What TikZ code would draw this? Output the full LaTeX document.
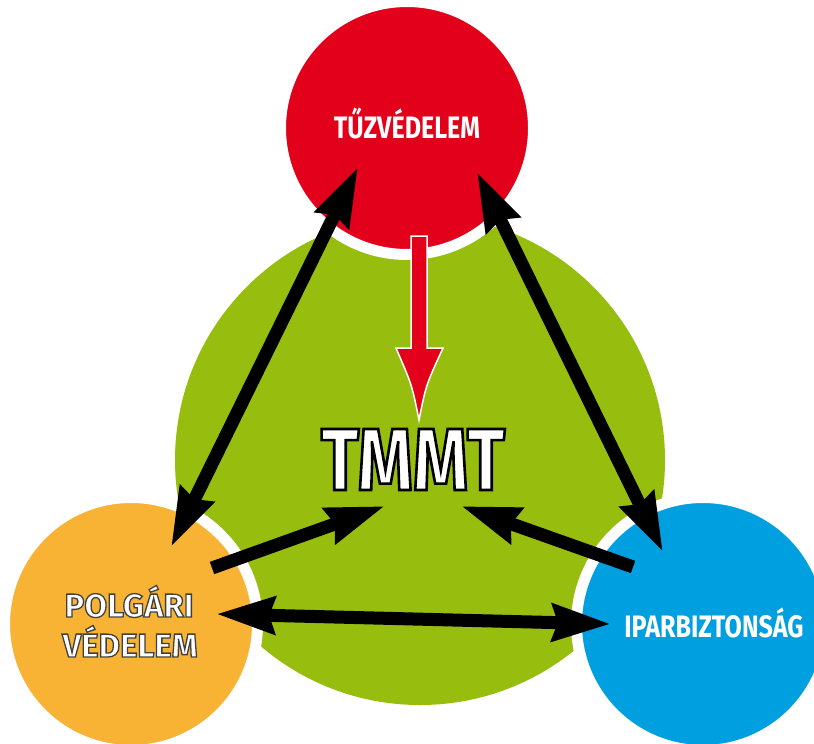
\documentclass[tikz,border=0pt]{standalone}
\usepackage{fontspec}
\usetikzlibrary{arrows.meta,calc}
\setsansfont{Fira Sans}
\newfontfamily\condfont{Fira Sans}[FakeStretch=0.81]
\newfontfamily\tmmtfont{Fira Sans}[FakeStretch=0.8]
\definecolor{fire}{HTML}{E2001A}
\definecolor{core}{HTML}{97BD0E}
\definecolor{civil}{HTML}{F8B334}
\definecolor{indus}{HTML}{009FE0}
% white letters with a dark rim (text render mode 2)
\newcommand\rimtext[3]{\special{pdf:literal direct #1 G 2 Tr #2 w}#3\special{pdf:literal direct 0 Tr}}

\begin{document}
\begin{tikzpicture}[
  x=1pt, y=-1pt,
  >={Stealth[length=58pt,width=36pt,inset=5pt]},
  disc/.style={circle,draw=white,line width=11pt,minimum size=253pt,inner sep=0pt},
  link/.style={line width=13pt,black},
  cond/.style={font=\condfont\bfseries\fontsize{31}{31}\selectfont,
               text=white,anchor=base,inner sep=0pt},
  outl/.style={font=\sffamily\bfseries\fontsize{33}{33}\selectfont,
               text=white,anchor=base,inner sep=0pt},
]
\useasboundingbox (0,0) rectangle (814,744);
\fill[white] (0,0) rectangle (814,744);

% ------------------------------------------------------------ circles
\node[circle,fill=core,minimum size=490pt,inner sep=0pt] (core) at (420,460) {};
\node[disc,fill=fire]  (tuz)  at (407,128) {};
\node[disc,fill=civil] (polg) at (131,624) {};
\node[disc,fill=indus] (ipar) at (703,624) {};

% ------------------------------------------------------------ end points
\coordinate (tuzL)  at (358,167);
\coordinate (tuzR)  at (477,172);
\coordinate (polgU) at (171,547);
\coordinate (polgT) at (212,568);
\coordinate (polgR) at (216,614);
\coordinate (iparU) at (663,552);
\coordinate (iparT) at (633,567);
\coordinate (iparL) at (611,624);
\coordinate (tmmtL) at (385,506);
\coordinate (tmmtR) at (461,506);
\coordinate (redtop) at (419,236);
\coordinate (redtip) at (419,420);

% red arrow, fire protection into TMMT
\filldraw[fill=fire,draw=white,line width=1.5pt]
  ($(redtop)+(-8,0)$) -- ($(redtop)+(8,0)$) -- ($(redtop)+(8,112)$)
  -- ($(redtop)+(24,112)$) .. controls ($(redtip)+(7,-35)$) .. (redtip)
  .. controls ($(redtip)+(-7,-35)$) .. ($(redtop)+(-23,112)$)
  -- ($(redtop)+(-8,112)$) -- cycle;

% black links
\foreach \i/\j in {polgU/tuzL,tuzR/iparU,polgR/iparL}
  \draw[link,<->] (\i) -- (\j);
\foreach \i/\j in {polgT/tmmtL,iparT/tmmtR}
  \draw[link,->] (\i) -- (\j);

% ------------------------------------------------------------ labels
\node[cond] (tuzl)  at ($(tuz)+(0,10)$)   {TŰZVÉDELEM};
\node[cond] (iparl) at ($(ipar)+(11,13)$) {IPARBIZTONSÁG};
\node[outl] (polg1) at ($(polg)+(-2,-7)$)  {\rimtext{0.25}{1.3}{POLGÁRI}};
\node[outl] (polg2) at ($(polg)+(-1,33)$)  {\rimtext{0.25}{1.3}{VÉDELEM}};
\node[font=\tmmtfont\bfseries\fontsize{88}{88}\selectfont,text=white,
      anchor=base,inner sep=0pt] (tmmt) at (413,490)
  {\rimtext{0}{2.6}{TMMT}};

\end{tikzpicture}
\end{document}
